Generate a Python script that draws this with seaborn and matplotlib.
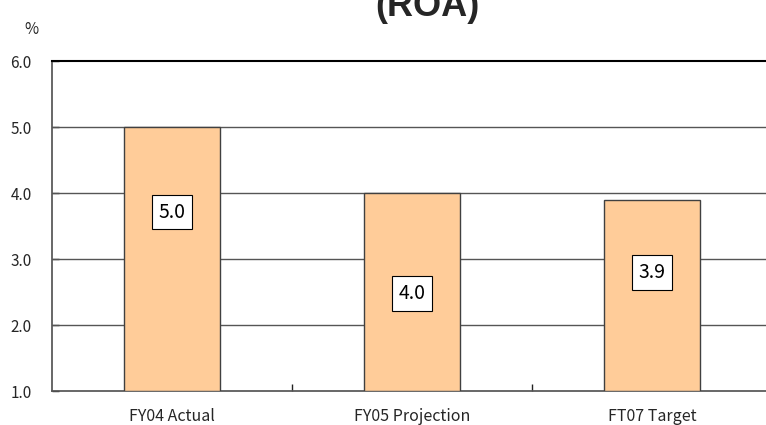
import matplotlib
matplotlib.use("Agg")
import matplotlib.pyplot as plt
import seaborn as sns
import pandas as pd

categories = ["FY04 Actual", "FY05 Projection", "FT07 Target"]
roa = [5.0, 4.0, 3.9]
y_ticks = [1.0, 2.0, 3.0, 4.0, 5.0, 6.0]
# vertical centre of each value box, in data units
label_y = [3.71, 2.48, 2.80]

sns.set_theme(style="white")
plt.rcParams["font.family"] = ["Noto Sans CJK JP", "DejaVu Sans"]

df = pd.DataFrame({"category": categories, "roa": roa})

fig = plt.figure(figsize=(7.66, 4.25), dpi=100)
ax = fig.add_axes([52 / 766, 1 - 391 / 425, 1 - 52 / 766, (391 - 61) / 425])

base = y_ticks[0]
sns.barplot(data=df.assign(height=df["roa"] - base), x="category", y="height",
            bottom=base, color="#FFCC99", saturation=1, width=0.4,
            edgecolor="#404040", linewidth=1.0, ax=ax, zorder=3)

for i, (v, ly) in enumerate(zip(roa, label_y)):
    ax.text(i, ly, f"{v:.1f}", ha="center", va="center", fontsize=14,
            color="black", zorder=5,
            bbox=dict(boxstyle="square,pad=0.35", fc="white", ec="black", lw=0.8))

for y in y_ticks[1:-1]:
    ax.axhline(y, color="#555555", lw=1.0, zorder=1)

ax.set_ylim(y_ticks[0], y_ticks[-1])
ax.set_yticks(y_ticks)
ax.set_yticklabels([f"{t:.1f}" for t in y_ticks], fontsize=11)
ax.set_xlim(-0.5, 2.5 - 6 / 240)
ax.set_xticks([0.5, 1.5], minor=True)
ax.set_xticklabels(categories, fontsize=11.5)
ax.tick_params(axis="x", which="major", length=0, pad=12)
ax.tick_params(axis="x", which="minor", direction="in", length=5, width=1,
               color="#222222", bottom=True)
ax.tick_params(axis="y", direction="in", length=5, width=1, color="#222222",
               left=True, pad=30)
for lab in ax.get_yticklabels():
    lab.set_horizontalalignment("left")
ax.set_xlabel("")
ax.set_ylabel("")

ax.spines["top"].set_color("black")
ax.spines["top"].set_linewidth(1.5)
ax.spines["left"].set_color("#555555")
ax.spines["bottom"].set_color("#555555")
ax.spines["right"].set_visible(False)

fig.text(31 / 766, 1 - 30 / 425, "%", fontsize=11, ha="center", va="center")
fig.text(427 / 766, 1 - 7 / 425, "(ROA)", fontsize=26, fontweight="bold",
         ha="center", va="center", family=["Liberation Sans", "DejaVu Sans"])

fig.savefig("out.png", dpi=100)
